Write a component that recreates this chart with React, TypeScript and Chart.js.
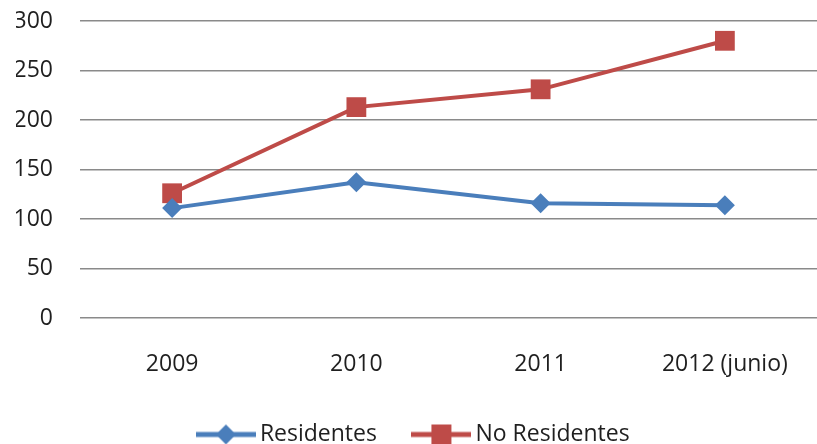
import React, { useEffect, useRef } from "react";
import { Chart, registerables } from "chart.js";

Chart.register(...registerables);

const categories = ["2009", "2010", "2011", "2012 (junio)"];
const residentes = [111, 137, 116, 114];
const noResidentes = [126, 213, 231, 280];
const yMin = 0;
const yMax = 300;
const yStep = 50;

const BLUE = "#4A7EBB";
const RED = "#BE4B48";
const TEXT = "#1f1f1f";
const FONT = "'Open Sans', 'DejaVu Sans', sans-serif";

function legendIcon(color: string, kind: "diamond" | "square"): HTMLCanvasElement {
  const c = document.createElement("canvas");
  c.width = 60;
  c.height = 24;
  const ctx = c.getContext("2d")!;
  ctx.strokeStyle = color;
  ctx.lineWidth = 5;
  ctx.beginPath();
  ctx.moveTo(0, 12);
  ctx.lineTo(60, 12);
  ctx.stroke();
  ctx.fillStyle = color;
  ctx.beginPath();
  if (kind === "diamond") {
    ctx.moveTo(30, 2);
    ctx.lineTo(40, 12);
    ctx.lineTo(30, 22);
    ctx.lineTo(20, 12);
    ctx.closePath();
  } else {
    ctx.rect(20, 2, 20, 20);
  }
  ctx.fill();
  return c;
}

export default function App() {
  const ref = useRef<HTMLCanvasElement>(null);
  useEffect(() => {
    if (!ref.current) return;
    const icons = [legendIcon(BLUE, "diamond"), legendIcon(RED, "square")];
    const chart = new Chart(ref.current, {
      type: "line",
      data: {
        labels: categories,
        datasets: [
          {
            label: "Residentes",
            data: residentes,
            borderColor: BLUE,
            backgroundColor: BLUE,
            borderWidth: 4,
            pointStyle: "rectRot",
            pointRadius: 10,
            pointHoverRadius: 10,
            pointBorderWidth: 0,
            tension: 0,
            clip: 20,
          },
          {
            label: "No Residentes",
            data: noResidentes,
            borderColor: RED,
            backgroundColor: RED,
            borderWidth: 4,
            pointStyle: "rect",
            pointRadius: 14,
            pointHoverRadius: 14,
            pointBorderWidth: 0,
            tension: 0,
            clip: 20,
          },
        ],
      },
      options: {
        animation: false,
        responsive: false,
        layout: { autoPadding: false, padding: { left: 16, right: 0, top: 21, bottom: -12 } },
        plugins: {
          tooltip: { enabled: false },
          legend: {
            position: "bottom",
            labels: {
              usePointStyle: true,
              pointStyleWidth: 45,
              padding: 42,
              color: TEXT,
              font: { family: FONT, size: 23 },
              generateLabels: (chart: any) =>
                chart.data.datasets.map((ds: any, i: number) => ({
                  text: ds.label,
                  pointStyle: icons[i],
                  fillStyle: ds.borderColor,
                  strokeStyle: ds.borderColor,
                  lineWidth: 0,
                  hidden: false,
                  datasetIndex: i,
                  fontColor: TEXT,
                })),
            },
          },
        },
        scales: {
          x: {
            offset: true,
            grid: { display: false },
            border: { display: false },
            ticks: {
              color: TEXT,
              font: { family: FONT, size: 23 },
              padding: 25,
              maxRotation: 0,
            },
            afterFit: (scale: any) => {
              scale.height = 63;
              scale.paddingLeft = 0;
              scale.paddingRight = 0;
            },
          },
          y: {
            min: yMin,
            max: yMax,
            grid: { color: "#8a8a8a", lineWidth: 1.5, drawTicks: false },
            border: { display: false },
            ticks: {
              stepSize: yStep,
              color: TEXT,
              font: { family: FONT, size: 23 },
              padding: 27,
            },
            afterFit: (scale: any) => {
              scale.width = 64;
              scale.paddingTop = 0;
              scale.paddingBottom = 0;
            },
          },
        },
      },
    });
    return () => chart.destroy();
  }, []);
  return (
    <div style={{ position: "absolute", left: 0, top: 0, width: 817, height: 444, background: "#fff", overflow: "hidden" }}>
      <canvas ref={ref} width={817} height={444} style={{ display: "block" }} />
    </div>
  );
}
